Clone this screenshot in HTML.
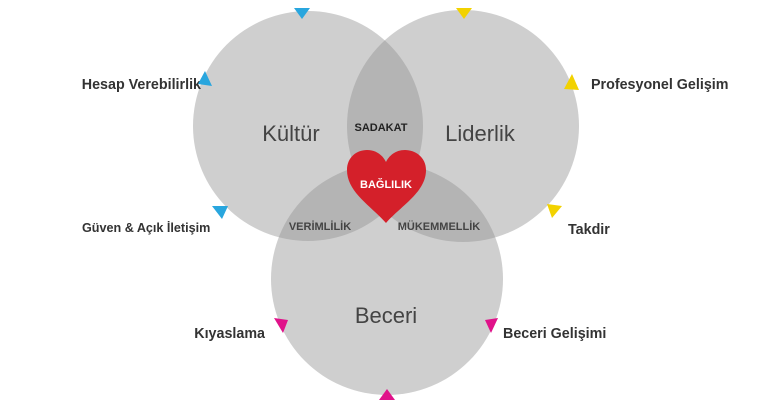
<!DOCTYPE html>
<html><head><meta charset="utf-8"><style>
body{margin:0;width:770px;height:400px;overflow:hidden;background:#fff;font-family:"Liberation Sans",Arial,sans-serif}
</style></head><body>
<svg width="770" height="400" viewBox="0 0 770 400" xmlns="http://www.w3.org/2000/svg" font-family="Liberation Sans, Arial, sans-serif">
<defs>
<clipPath id="cA"><circle cx="308" cy="126" r="115"/></clipPath>
<clipPath id="cB"><circle cx="463" cy="126" r="116"/></clipPath>
</defs>
<g fill="#cfcfcf">
<circle cx="308" cy="126" r="115"/>
<circle cx="463" cy="126" r="116"/>
<circle cx="387" cy="279" r="116"/>
</g>
<g fill="#b4b4b4">
<circle cx="463" cy="126" r="116" clip-path="url(#cA)"/>
<circle cx="387" cy="279" r="116" clip-path="url(#cA)"/>
<circle cx="387" cy="279" r="116" clip-path="url(#cB)"/>
</g>
<path d="M386,223 C370,205 347,192 347,170 C347,157 357,150 367,150 C377,150 383,156 386,162 C389,156 395,150 405,150 C415,150 426,157 426,170 C426,192 402,205 386,223 Z" fill="#d4202a"/>
<g fill="#444" text-anchor="middle">
<text x="291" y="141" font-size="22">Kültür</text>
<text x="480" y="141" font-size="22">Liderlik</text>
<text x="386" y="323" font-size="22">Beceri</text>
<text x="381" y="131" font-size="11" font-weight="bold" fill="#222">SADAKAT</text>
<text x="320" y="230" font-size="11" font-weight="bold">VERİMLİLİK</text>
<text x="439" y="230" font-size="11" font-weight="bold">MÜKEMMELLİK</text>
<text x="386" y="188" font-size="11" font-weight="bold" fill="#fff">BAĞLILIK</text>
</g>
<g fill="#333" font-size="14.3" font-weight="bold">
<text x="201" y="89" text-anchor="end">Hesap Verebilirlik</text>
<text x="82" y="232" font-size="12.6">Güven &amp; Açık İletişim</text>
<text x="591" y="89">Profesyonel Gelişim</text>
<text x="568" y="234">Takdir</text>
<text x="265" y="338" text-anchor="end">Kıyaslama</text>
<text x="503" y="338">Beceri Gelişimi</text>
</g>
<g fill="#29a6de">
<polygon points="294,8 310,8 302,19"/>
<polygon points="205,71 212,86 198,84"/>
<polygon points="212,206 228,206 222,219"/>
</g>
<g fill="#f2d200">
<polygon points="456,8 472,8 464,19"/>
<polygon points="572,74 579,90 564,89"/>
<polygon points="547,204 562,206 552,218"/>
</g>
<g fill="#e0128a">
<polygon points="274,318 288,320 283,333"/>
<polygon points="485,320 498,318 491,333"/>
<polygon points="387,389 379,400 395,400"/>
</g>
</svg>
</body></html>
